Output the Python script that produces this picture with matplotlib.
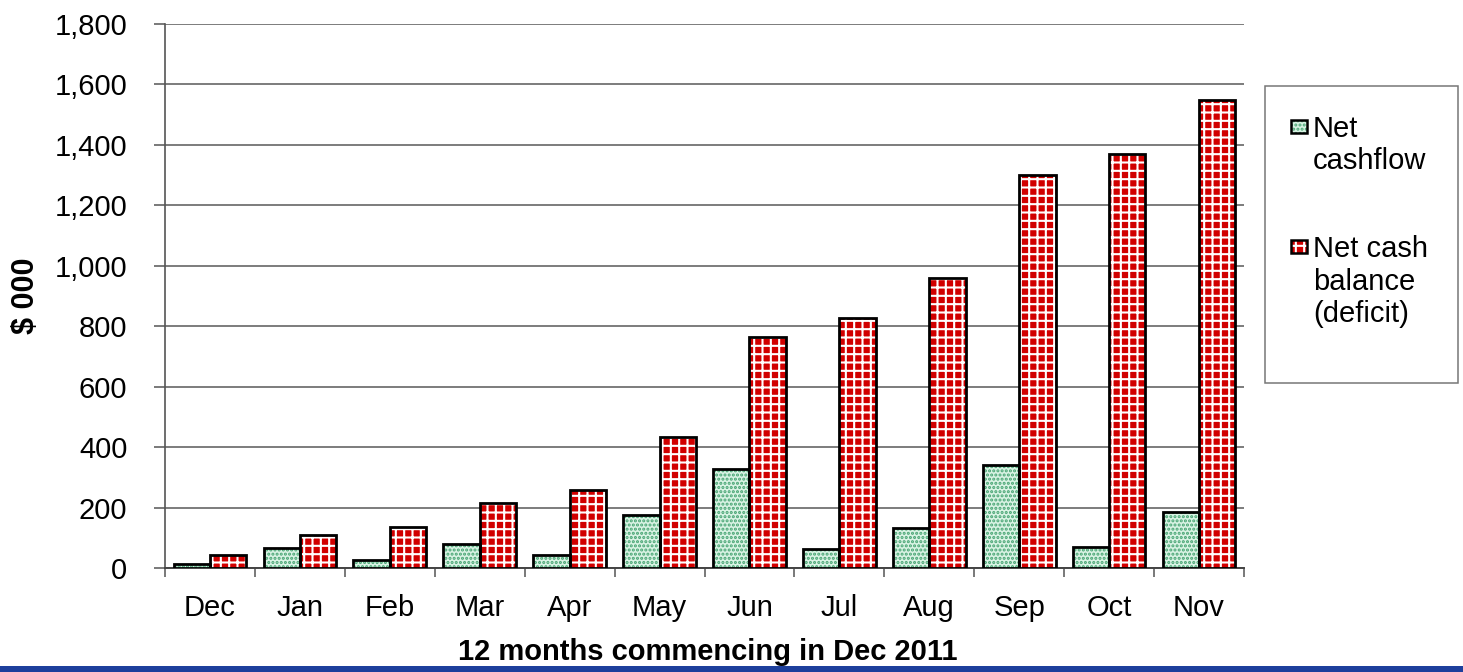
import matplotlib
matplotlib.use("Agg")
import matplotlib.pyplot as plt
import numpy as np
from matplotlib.patches import Rectangle
from matplotlib.ticker import FuncFormatter, MultipleLocator, FixedLocator

# ---- data ($ 000) ----
months = ["Dec", "Jan", "Feb", "Mar", "Apr", "May",
          "Jun", "Jul", "Aug", "Sep", "Oct", "Nov"]
net_cashflow = [13, 66, 28, 81, 42, 177, 328, 63, 134, 341, 70, 184]
net_cash_balance = [44, 110, 137, 216, 257, 434, 763, 826, 959, 1299, 1369, 1550]
series_labels = ["Net\ncashflow", "Net cash\nbalance\n(deficit)"]
y_label = "$ 000"
x_label = "12 months commencing in Dec 2011"

# ---- styling ----
W, H = 1463, 672
plt.rcParams["font.family"] = ["Liberation Sans", "DejaVu Sans"]
plt.rcParams["hatch.linewidth"] = 1.5
FS = 21

green_face, green_dot = "#d9f3e4", "#46a472"
red_face, red_grid = "#d10000", "#ffffff"
series_styles = [
    dict(face=green_face, hatchcol=green_dot, hatch="...."),
    dict(face=red_face, hatchcol=red_grid, hatch="++"),
]

fig = plt.figure(figsize=(W / 100, H / 100), dpi=100)
fig.patch.set_facecolor("white")

ax_left, ax_right, ax_top, ax_bottom = 165, 1244, 24, 568
ax = fig.add_axes([ax_left / W, 1 - ax_bottom / H,
                   (ax_right - ax_left) / W, (ax_bottom - ax_top) / H])

x = np.arange(len(months))
bw = 0.404
for offs, vals, st in zip((-bw / 2, bw / 2), (net_cashflow, net_cash_balance), series_styles):
    ax.bar(x + offs, vals, bw, color=st["face"], edgecolor=st["hatchcol"],
           hatch=st["hatch"], linewidth=0, zorder=3)
    ax.bar(x + offs, vals, bw, fill=False, edgecolor="black", linewidth=2.0, zorder=4)

ax.set_xlim(-0.5, len(months) - 0.5)
ax.set_ylim(0, 1800)
ax.yaxis.set_major_locator(MultipleLocator(200))
ax.yaxis.set_major_formatter(FuncFormatter(lambda v, p: f"{int(v):,}"))
ax.set_xticks(x)
ax.set_xticklabels(months)
ax.xaxis.set_minor_locator(FixedLocator(np.arange(-0.5, len(months), 1)))

ax.tick_params(axis="x", which="major", length=0, pad=19, labelsize=FS)
ax.tick_params(axis="x", which="minor", length=6.5, width=1.1, color="#555555", direction="out")
ax.tick_params(axis="y", which="major", length=8, width=1.1, color="#555555",
               direction="out", pad=19, labelsize=FS)

ax.yaxis.grid(True, color="#666666", linewidth=1.2)
ax.set_axisbelow(True)
for s in ("top", "right"):
    ax.spines[s].set_visible(False)
ax.spines["left"].set_color("#555555")
ax.spines["left"].set_linewidth(1.2)
ax.spines["bottom"].set_color("#444444")
ax.spines["bottom"].set_linewidth(1.4)

fig.text(26 / W, 1 - 296 / H, y_label, rotation=90, ha="center", va="center",
         fontsize=FS + 1, fontweight="bold")
fig.text(708 / W, 1 - 660 / H, x_label, ha="center", va="baseline",
         fontsize=FS, fontweight="bold")

# ---- legend box ----
fig.add_artist(Rectangle((1265 / W, 1 - 383 / H), 193 / W, 297 / H,
                         transform=fig.transFigure, fill=False,
                         edgecolor="#777777", linewidth=1.1))
entry_tops = [137, 257]
line_step = 32.5
for top, label, st in zip(entry_tops, series_labels, series_styles):
    sq_y = top - 17
    for kw in (dict(facecolor=st["face"], edgecolor=st["hatchcol"], hatch=st["hatch"], linewidth=0),
               dict(fill=False, edgecolor="black", linewidth=1.8)):
        fig.add_artist(Rectangle((1291 / W, 1 - (sq_y + 13) / H), 16 / W, 13 / H,
                                 transform=fig.transFigure, **kw))
    for i, line in enumerate(label.split("\n")):
        fig.text(1313 / W, 1 - (top + i * line_step) / H, line, ha="left",
                 va="baseline", fontsize=FS)

# ---- blue strip along the bottom edge ----
fig.add_artist(Rectangle((0, 0), 1, 6 / H, transform=fig.transFigure,
                         facecolor="#1d3f9c", edgecolor="none"))

fig.savefig("out.png", dpi=100, facecolor="white")
